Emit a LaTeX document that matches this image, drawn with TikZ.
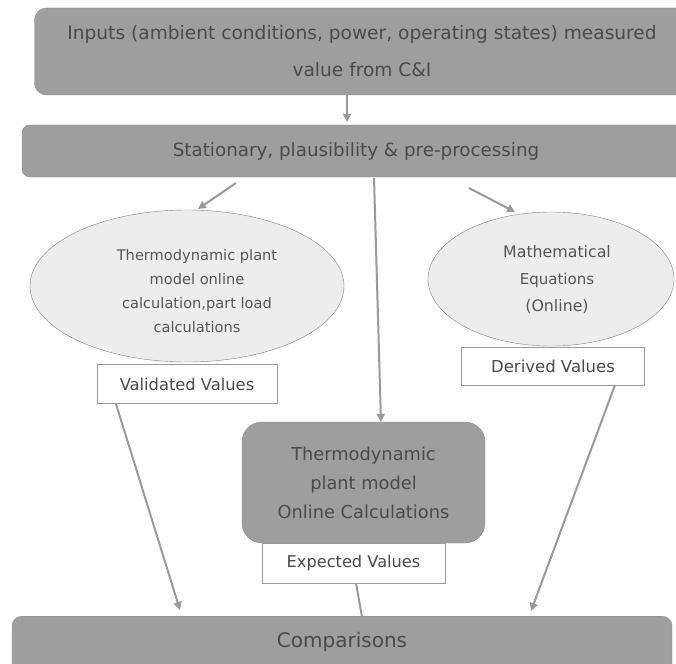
\documentclass[tikz,border=0pt]{standalone}
\usepackage{fontspec}
\setmainfont{DejaVu Sans}
\usetikzlibrary{shapes.geometric,arrows.meta}
\definecolor{boxgray}{HTML}{9E9E9E}
\definecolor{boxedge}{HTML}{8C8C8C}
\definecolor{darktext}{HTML}{4A4A4A}
\definecolor{midtext}{HTML}{555555}
\definecolor{ellfill}{HTML}{EDEDED}
\definecolor{elledge}{HTML}{808080}
\definecolor{arrowgray}{HTML}{9A9A9A}
\tikzset{
  bigbox/.style={draw=boxedge, fill=boxgray, rounded corners=12pt, text=darktext, align=center, inner sep=0pt},
  ell/.style={ellipse, draw=elledge, fill=ellfill, text=midtext, align=center, inner sep=0pt},
  valbox/.style={draw=arrowgray, fill=white, text=darktext, inner sep=0pt, align=center},
  conn/.style={draw=arrowgray, line width=2pt, -{Triangle[length=8pt,width=8pt]}},
}
\begin{document}
\begin{tikzpicture}[x=1pt,y=-1pt]
\useasboundingbox (0,0) rectangle (676,663);
\clip (0,0) rectangle (676,663);
% top box
\node[bigbox, minimum width=655pt, minimum height=87pt, font=\fontsize{18.6}{37}\selectfont] (inputs) at (362,51.5)
  {Inputs (ambient conditions, power, operating states) measured\\value from C\&I};
% second box
\node[bigbox, rounded corners=8pt, minimum width=668pt, minimum height=52pt, font=\fontsize{18.3}{20}\selectfont] (stat) at (356,151)
  {Stationary, plausibility \& pre-processing};
% left ellipse
\node[ell, minimum width=314pt, minimum height=152pt] (thermo) at (187,286) {};
\node[text=midtext, align=center, font=\fontsize{14.6}{24}\selectfont] (thermotxt) at (197,291)
  {Thermodynamic plant\\model online\\calculation,part load\\calculations};
% right ellipse
\node[ell, minimum width=246pt, minimum height=134pt] (math) at (551,279) {};
\node[text=midtext, align=center, font=\fontsize{15.8}{27}\selectfont] (mathtxt) at (557,280)
  {Mathematical\\{\fontsize{15}{27}\selectfont Equations}\\(Online)};
% validated / derived
\node[valbox, minimum width=180pt, minimum height=39pt, font=\fontsize{16.3}{19}\selectfont] (valid) at (187,384) {Validated Values};
\node[valbox, minimum width=183pt, minimum height=38pt, font=\fontsize{16.5}{19}\selectfont] (derived) at (553,366) {Derived Values};
% center box
\node[bigbox, rounded corners=20pt, minimum width=243pt, minimum height=121pt, font=\fontsize{17.8}{29}\selectfont] (center) at (363.5,482.5)
  {Thermodynamic\\plant model\\Online Calculations};
\node[valbox, minimum width=183pt, minimum height=40pt, font=\fontsize{16.2}{19}\selectfont] (expected) at (353.5,563.5) {Expected Values};
% comparisons
\node[bigbox, rounded corners=10pt, minimum width=660pt, minimum height=90pt, anchor=north] (comp) at (342,616) {};
\node[text=darktext, font=\fontsize{20}{24}\selectfont] (comptxt) at (342,642) {Comparisons};
% connectors
\coordinate (a1) at (347,122);
\draw[conn, line width=1.6pt] (inputs.south -| a1) -- (a1);
\coordinate (l0) at (236,183); \coordinate (l1) at (198,209);
\draw[conn] (l0) -- (l1);
\coordinate (r0) at (469,188); \coordinate (r1) at (515,212);
\draw[conn] (r0) -- (r1);
\coordinate (m0) at (374,178); \coordinate (m1) at (381,422);
\draw[conn] (m0) -- (m1);
\coordinate (v0) at (116,404); \coordinate (v1) at (180,610);
\draw[conn] (v0) -- (v1);
\coordinate (d0) at (615,385); \coordinate (d1) at (531,611);
\draw[conn] (d0) -- (d1);
\coordinate (e0) at (356,583); \coordinate (e1) at (362,617);
\draw[draw=arrowgray, line width=2pt] (e0) -- (e1);
\end{tikzpicture}
\end{document}
